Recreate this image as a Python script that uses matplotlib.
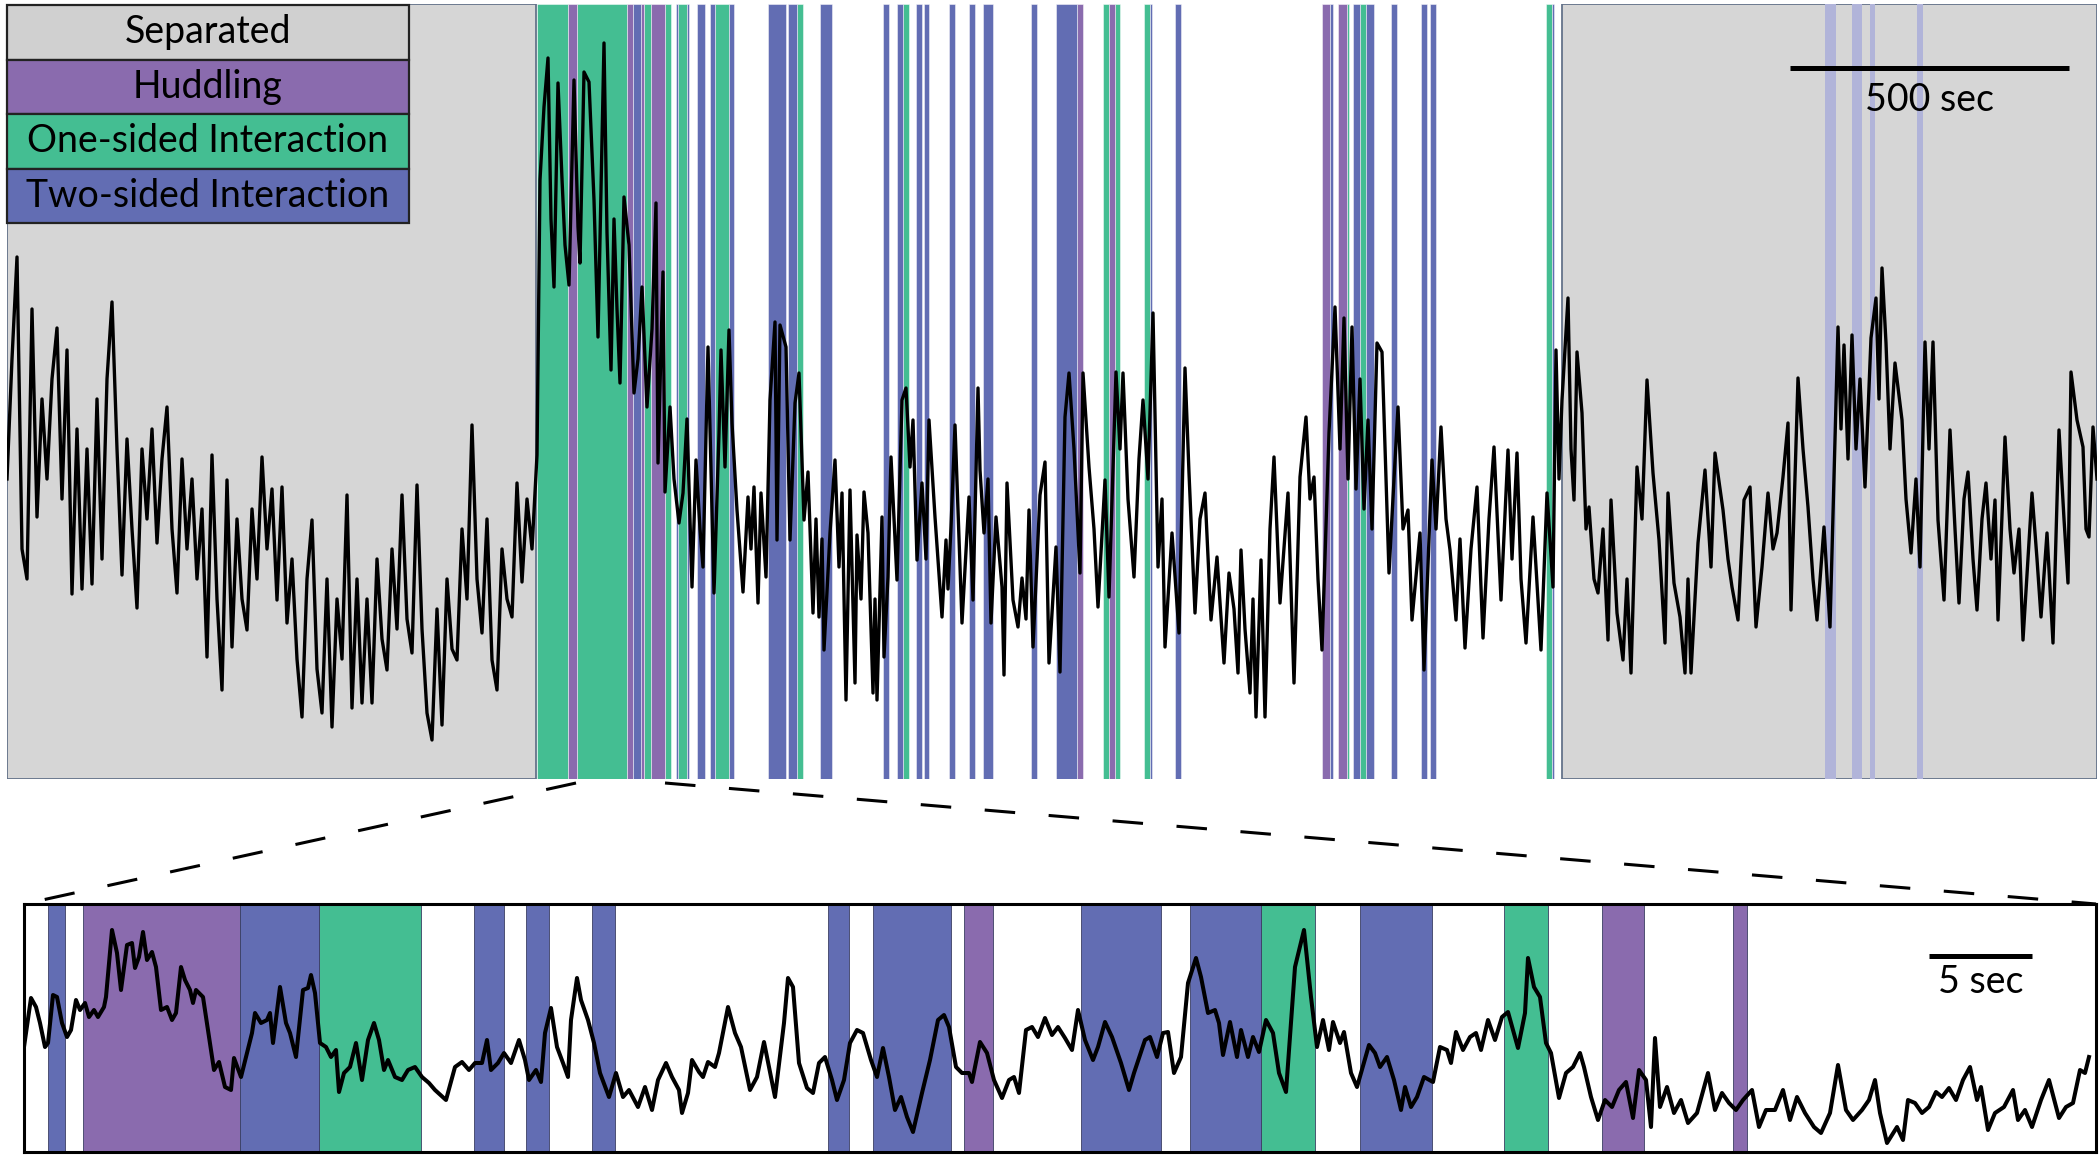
import matplotlib.pyplot as plt
from matplotlib.colors import to_rgba
from matplotlib.lines import Line2D
from matplotlib.patches import Rectangle

plt.rcParams['font.family'] = ['Lato', 'DejaVu Sans']

# --------------------------------------------------
# Colours
# --------------------------------------------------
SEPARATED = '#cacaca'
SEPARATED_KEY = '#d0d0d0'
HUDDLING = '#8a6bae'
ONE_SIDED = '#44be92'
TWO_SIDED = '#626db3'
TWO_SIDED_FADED = '#b1b4d9'   # two-sided bouts seen through the Separated shading

# --------------------------------------------------
# Data: full session (downsampled trace, 1 frame = 500/279 s)
# --------------------------------------------------
TOP_FRAME_S = 500 / 279
TOP_N_FRAMES = 2090

top_frames = [
    0, 5, 10, 15, 20, 25, 30, 35, 40, 45,
    50, 55, 60, 65, 70, 75, 80, 85, 90, 95,
    100, 105, 110, 115, 120, 125, 130, 135, 140, 145,
    150, 155, 160, 165, 170, 175, 180, 185, 190, 195,
    200, 205, 210, 215, 220, 225, 230, 235, 240, 245,
    250, 255, 260, 265, 270, 275, 280, 285, 290, 295,
    300, 305, 310, 315, 320, 325, 330, 335, 340, 345,
    350, 355, 360, 365, 370, 375, 380, 385, 390, 395,
    400, 405, 410, 415, 420, 425, 430, 435, 440, 445,
    450, 455, 460, 465, 470, 475, 480, 485, 490, 495,
    500, 505, 510, 515, 520, 525, 530,
    533, 537, 541, 544, 547, 551, 555, 558, 562, 567,
    571, 573, 577, 582, 587, 591, 597, 600, 604, 607,
    610, 613, 617, 622, 627, 631, 635, 640, 645, 649,
    651, 656, 658, 663, 667, 672, 676, 680, 685, 689,
    693, 696, 701, 707, 712, 714, 718, 722, 725, 730,
    736, 741, 744, 747, 751, 754, 759, 763, 768, 770,
    773, 779, 783, 788, 792, 797, 801, 806, 809, 812,
    815, 817, 823, 828, 832, 835, 839, 843, 848, 850,
    854, 857, 861, 866, 868, 870, 875, 877, 881, 884,
    890, 895, 899, 903, 906, 910, 915, 919, 922, 928,
    935, 939, 941, 944, 948, 955, 962, 966, 971, 973,
    977, 981, 984, 989, 995, 997, 1000, 1006, 1011, 1015,
    1019, 1022, 1026, 1033, 1038, 1042, 1049, 1053, 1058, 1062,
    1067, 1073, 1076, 1082, 1087, 1091, 1098, 1102, 1109, 1113,
    1116, 1121, 1127, 1132, 1136, 1141, 1146, 1151, 1155, 1158,
    1165, 1172, 1178, 1182, 1188, 1193, 1198, 1204, 1210, 1217,
    1222, 1227, 1231, 1234, 1238, 1243, 1246, 1249, 1254, 1258,
    1263, 1267, 1273, 1281, 1287, 1293, 1299, 1303, 1307, 1311,
    1315, 1322, 1328, 1333, 1337, 1341, 1345, 1349, 1353, 1357,
    1361, 1365, 1370, 1375, 1382, 1387, 1391, 1396, 1401, 1405,
    1413, 1417, 1425, 1429, 1434, 1439, 1443, 1449, 1453, 1458,
    1464, 1470, 1476, 1482, 1487, 1494, 1501, 1505, 1510, 1514,
    1519, 1526, 1534, 1540, 1546, 1549, 1552, 1555, 1561, 1564,
    1567, 1570, 1575, 1579, 1582, 1587, 1591, 1596, 1601, 1604,
    1610, 1616, 1620, 1624, 1630, 1635, 1640, 1646, 1652, 1658,
    1661, 1667, 1673, 1678, 1681, 1684, 1691, 1698, 1704, 1708,
    1716, 1721, 1725, 1731, 1737, 1743, 1749, 1755, 1761, 1766,
    1770, 1776, 1781, 1784, 1791, 1796, 1801, 1806, 1810, 1817,
    1823, 1831, 1834, 1837, 1841, 1845, 1849, 1853, 1858, 1864,
    1869, 1872, 1875, 1879, 1883, 1888, 1895, 1899, 1904, 1909,
    1913, 1918, 1922, 1926, 1931, 1937, 1943, 1948, 1952, 1957,
    1961, 1966, 1970, 1975, 1979, 1984, 1988, 1991, 1998, 2003,
    2007, 2012, 2016, 2021, 2025, 2030, 2034, 2040, 2046, 2052,
    2057, 2061, 2064, 2070, 2076, 2079, 2082, 2086, 2090,
]

top_signal = [
    300, 420, 522, 230, 200, 470, 262, 380, 300, 400,
    451, 280, 429, 185, 350, 190, 330, 195, 380, 220,
    400, 477, 330, 204, 340, 250, 171, 330, 260, 350,
    236, 320, 372, 250, 186, 320, 230, 300, 200, 270,
    122, 324, 180, 89, 299, 132, 260, 180, 149, 270,
    200, 322, 230, 290, 179, 292, 156, 220, 120, 62,
    200, 259, 110, 66, 200, 52, 180, 120, 284, 71,
    200, 76, 180, 76, 220, 140, 109, 230, 150, 284,
    160, 126, 294, 150, 66, 39, 170, 54, 200, 130,
    119, 250, 180, 354, 200, 146, 260, 119, 89, 230,
    180, 162, 296, 197, 280, 230, 324,
    599, 672, 721, 560, 492, 696, 600, 534, 494, 699,
    552, 516, 707, 697, 579, 442, 736, 546, 409, 560,
    470, 396, 582, 534, 386, 420, 492, 372, 450, 576,
    316, 507, 287, 372, 300, 256, 286, 360, 192, 319,
    250, 212, 432, 186, 346, 429, 312, 449, 356, 269,
    187, 282, 230, 292, 176, 286, 202, 379, 457, 239,
    454, 432, 239, 376, 406, 259, 307, 166, 260, 162,
    240, 129, 246, 319, 212, 286, 79, 289, 96, 244,
    180, 287, 246, 86, 180, 79, 262, 122, 202, 322,
    199, 379, 391, 312, 359, 219, 296, 220, 359, 262,
    162, 239, 190, 252, 354, 156, 282, 179, 391, 309,
    246, 300, 156, 262, 192, 104, 296, 179, 152, 201,
    160, 269, 132, 284, 317, 116, 232, 107, 362, 406,
    330, 206, 406, 312, 250, 172, 299, 182, 407, 330,
    406, 280, 202, 320, 379, 300, 466, 212, 280, 132,
    246, 146, 411, 306, 166, 260, 286, 159, 222, 116,
    206, 170, 106, 229, 150, 86, 180, 62, 219, 62,
    250, 322, 176, 286, 96, 302, 362, 280, 302, 200,
    129, 346, 472, 330, 461, 300, 452, 290, 400, 270,
    359, 250, 436, 427, 206, 300, 372, 250, 269, 159,
    246, 109, 319, 250, 352, 260, 229, 159, 240, 131,
    230, 292, 141, 260, 332, 179, 329, 220, 326, 200,
    136, 262, 129, 286, 192, 429, 300, 379, 481, 330,
    279, 427, 366, 250, 272, 200, 186, 250, 139, 279,
    166, 119, 200, 106, 312, 260, 399, 306, 239, 136,
    286, 196, 162, 106, 200, 106, 236, 309, 212, 326,
    269, 220, 192, 159, 279, 292, 152, 212, 286, 230,
    246, 302, 356, 169, 401, 330, 272, 200, 159, 252,
    152, 452, 350, 434, 320, 444, 330, 400, 292, 441,
    481, 380, 511, 436, 330, 416, 359, 280, 226, 300,
    212, 437, 330, 437, 259, 179, 349, 250, 176, 280,
    307, 220, 169, 260, 296, 220, 279, 159, 342, 250,
    206, 250, 139, 220, 286, 220, 162, 246, 136, 349,
    260, 196, 407, 359, 332, 250, 242, 352, 300,
]
TOP_SIGNAL_MAX = 775

# behaviour bouts (start frame, end frame)
top_separated = [(0, 529), (1555, 2090)]
top_huddling = [(561, 570), (620, 626), (634, 637), (644, 658), (1070, 1076),
                (1102, 1108), (1315, 1323), (1331, 1340)]
top_one_sided = [(530, 561), (570, 620), (637, 644), (658, 664), (671, 680),
                 (708, 722), (790, 796), (896, 902), (1096, 1102), (1108, 1113),
                 (1137, 1143), (1340, 1342), (1353, 1359), (1539, 1545)]
top_two_sided = [(626, 634), (669, 671), (680, 682), (690, 698), (703, 708),
                 (722, 727), (761, 779), (781, 790), (813, 825), (876, 882),
                 (890, 896), (909, 915), (917, 922), (942, 948), (962, 968),
                 (976, 986), (1024, 1030), (1049, 1070), (1143, 1145), (1168, 1174),
                 (1323, 1326), (1346, 1353), (1359, 1367), (1384, 1390), (1414, 1420),
                 (1423, 1429), (1545, 1547)]
# two-sided bouts that fall inside the second Separated period
top_two_sided_separated = [(1818, 1829), (1845, 1855), (1863, 1868), (1910, 1916)]

# window shown enlarged below
zoom_window = (569, 658)

# --------------------------------------------------
# Data: enlarged window (1 frame = 5/103 s)
# --------------------------------------------------
BOT_FRAME_S = 5 / 103
BOT_N_FRAMES = 2072

bot_frames = [
    0, 7, 12, 16, 21, 24, 29, 33, 38, 43,
    47, 52, 56, 61, 65, 70, 74, 80, 82, 88,
    93, 97, 103, 108, 111, 115, 119, 123, 128, 132,
    137, 143, 148, 152, 157, 161, 166, 169, 172, 179,
    190, 195, 201, 207, 210, 217, 222, 228, 231, 237,
    243, 246, 249, 256, 262, 266, 272, 279, 284, 287,
    291, 296, 302, 307, 312, 315, 320, 326, 332, 338,
    344, 350, 355, 360, 364, 371, 378, 384, 391, 398,
    405, 411, 422, 431, 438, 445, 451, 458, 463, 467,
    474, 480, 487, 495, 501, 505, 512, 517, 521, 527,
    533, 539, 544, 547, 553, 557, 564, 570, 576, 585,
    592, 599, 605, 614, 621, 628, 634, 642, 648, 655,
    658, 664, 668, 675, 679, 684, 691, 695, 704, 711,
    717, 726, 733, 740, 751, 760, 764, 769, 775, 783,
    789, 795, 801, 808, 813, 820, 826, 833, 839, 847,
    853, 859, 865, 871, 877, 883, 889, 898, 906, 914,
    920, 925, 932, 938, 945, 948, 956, 963, 970, 978,
    985, 990, 995, 1002, 1008, 1014, 1021, 1028, 1034, 1041,
    1048, 1054, 1061, 1069, 1074, 1081, 1088, 1097, 1105, 1110,
    1121, 1126, 1133, 1139, 1144, 1150, 1157, 1164, 1172, 1177,
    1184, 1191, 1195, 1199, 1206, 1213, 1217, 1224, 1229, 1235,
    1242, 1249, 1255, 1262, 1271, 1280, 1287, 1293, 1299, 1305,
    1309, 1316, 1320, 1327, 1333, 1345, 1351, 1356, 1363, 1370,
    1377, 1381, 1387, 1393, 1400, 1409, 1416, 1423, 1427, 1432,
    1439, 1446, 1452, 1457, 1464, 1471, 1478, 1484, 1494, 1501,
    1504, 1510, 1516, 1522, 1527, 1535, 1542, 1549, 1556, 1560,
    1567, 1574, 1581, 1588, 1595, 1602, 1609, 1615, 1622, 1627,
    1631, 1636, 1643, 1650, 1657, 1664, 1673, 1684, 1691, 1698,
    1705, 1712, 1719, 1728, 1735, 1742, 1751, 1759, 1766, 1773,
    1781, 1790, 1797, 1806, 1814, 1822, 1829, 1838, 1845, 1851,
    1856, 1863, 1873, 1879, 1884, 1891, 1898, 1905, 1912, 1918,
    1925, 1932, 1939, 1946, 1953, 1957, 1964, 1971, 1980, 1989,
    1994, 2001, 2008, 2017, 2025, 2035, 2042, 2049, 2056, 2061,
    2065,
]

bot_signal = [
    105, 154, 145, 129, 105, 109, 157, 155, 129, 115,
    122, 152, 142, 149, 135, 142, 135, 145, 155, 222,
    199, 162, 207, 209, 184, 195, 220, 192, 200, 185,
    142, 145, 132, 139, 185, 172, 162, 149, 162, 155,
    82, 90, 65, 62, 94, 75, 95, 119, 139, 129,
    132, 139, 109, 165, 129, 119, 95, 162, 164, 177,
    159, 109, 105, 95, 102, 60, 79, 85, 109, 72,
    112, 129, 112, 82, 92, 75, 72, 82, 85, 75,
    69, 62, 52, 85, 90, 82, 89, 89, 112, 82,
    89, 99, 89, 112, 92, 72, 82, 70, 119, 144,
    105, 89, 75, 132, 174, 152, 132, 109, 79, 55,
    79, 55, 62, 45, 65, 42, 72, 89, 75, 62,
    39, 59, 92, 80, 75, 90, 85, 99, 145, 119,
    105, 62, 75, 110, 55, 129, 174, 165, 89, 64,
    59, 89, 95, 72, 52, 72, 109, 122, 119, 92,
    75, 104, 75, 42, 55, 35, 20, 59, 92, 132,
    137, 125, 85, 79, 79, 70, 110, 99, 72, 54,
    72, 75, 59, 122, 125, 115, 134, 117, 125, 114,
    102, 142, 112, 92, 105, 130, 115, 89, 62, 79,
    112, 115, 95, 119, 120, 79, 95, 169, 194, 175,
    139, 142, 129, 97, 130, 95, 122, 95, 115, 100,
    132, 119, 79, 60, 185, 222, 155, 105, 132, 102,
    130, 109, 120, 79, 65, 107, 99, 85, 95, 72,
    42, 65, 45, 55, 75, 70, 105, 102, 89, 120,
    102, 115, 119, 102, 132, 112, 135, 140, 104, 139,
    194, 165, 155, 109, 99, 54, 79, 85, 99, 85,
    55, 32, 52, 45, 62, 70, 34, 82, 72, 25,
    114, 45, 65, 39, 52, 29, 39, 79, 42, 59,
    49, 42, 52, 62, 25, 42, 42, 62, 32, 55,
    39, 25, 19, 39, 87, 42, 32, 42, 52, 72,
    39, 9, 25, 12, 52, 49, 39, 45, 60, 55,
    64, 52, 72, 85, 52, 65, 22, 39, 45, 62,
    32, 42, 25, 52, 72, 34, 45, 49, 82, 79,
    95,
]
BOT_SIGNAL_MAX = 248

bot_huddling = [(59, 216), (940, 969), (1578, 1620), (1709, 1723)]
bot_one_sided = [(295, 397), (1237, 1291), (1480, 1524)]
bot_two_sided = [(24, 41), (216, 295), (450, 480), (502, 525), (568, 591),
                 (804, 825), (849, 927), (1057, 1137), (1166, 1237), (1336, 1408)]

legend_labels = ['Separated', 'Huddling', 'One-sided Interaction', 'Two-sided Interaction']
legend_colors = [SEPARATED_KEY, HUDDLING, ONE_SIDED, TWO_SIDED]


def draw_bouts(a, bouts, color, edge, lw=0.6, z=1):
    for s, e in bouts:
        a.axvspan(s, e, facecolor=color, edgecolor=edge, lw=lw, zorder=z)


# --------------------------------------------------
# Figure
# --------------------------------------------------
fig = plt.figure(figsize=(21, 11.55), dpi=100)

# top: whole session
ax = fig.add_axes([7 / 2100, 376 / 1155, 2090 / 2100, 775 / 1155])
ax.set_xlim(0, TOP_N_FRAMES)
ax.set_ylim(0, TOP_SIGNAL_MAX)
ax.axis('off')

top_edge = (1, 1, 1, 0.55)
draw_bouts(ax, top_one_sided, ONE_SIDED, top_edge)
draw_bouts(ax, top_huddling, HUDDLING, top_edge)
draw_bouts(ax, top_two_sided, TWO_SIDED, top_edge)

for s, e in top_separated:
    ax.add_patch(Rectangle((s, 0), e - s, TOP_SIGNAL_MAX,
                           facecolor=to_rgba(SEPARATED, 0.77),
                           edgecolor='#64738a', lw=1.3, zorder=2))
draw_bouts(ax, top_two_sided_separated, TWO_SIDED_FADED, 'none', lw=0, z=2.5)

ax.plot(top_frames, top_signal, color='k', lw=2.4, zorder=3)

# legend key as stacked boxes
row_h = 54.5 / 775
key_w = 402 / 2090
for k, (lab, col) in enumerate(zip(legend_labels, legend_colors)):
    y0 = 1 - 1 / 775 - (k + 1) * row_h
    ax.add_patch(Rectangle((0, y0), key_w, row_h, transform=ax.transAxes,
                           facecolor=col, edgecolor='#222222', lw=1.6,
                           zorder=5, clip_on=False))
    ax.text(key_w / 2, y0 + row_h / 2, lab, transform=ax.transAxes,
            ha='center', va='center', fontsize=27, zorder=6)

# 500 s scale bar
bar_len = 500 / TOP_FRAME_S
ax.plot([1783, 1783 + bar_len], [711, 711], color='k', lw=3.6,
        solid_capstyle='butt', zorder=4)
ax.text(1783 + bar_len / 2, 679, '500 sec', ha='center', va='center',
        fontsize=27, zorder=4)

# bottom: enlarged window
ax2 = fig.add_axes([24 / 2100, 3 / 1155, 2072 / 2100, 248 / 1155])
ax2.set_xlim(0, BOT_N_FRAMES)
ax2.set_ylim(0, BOT_SIGNAL_MAX)
ax2.set_xticks([])
ax2.set_yticks([])
for sp in ax2.spines.values():
    sp.set_linewidth(2.2)
    sp.set_color('k')
    sp.set_zorder(5)

bot_edge = '#3b3f63'
draw_bouts(ax2, bot_huddling, HUDDLING, bot_edge)
draw_bouts(ax2, bot_one_sided, ONE_SIDED, bot_edge)
draw_bouts(ax2, bot_two_sided, TWO_SIDED, bot_edge)

ax2.plot(bot_frames, bot_signal, color='k', lw=2.9, zorder=3)

bar_len2 = 5 / BOT_FRAME_S
ax2.plot([1905, 1905 + bar_len2], [196, 196], color='k', lw=3.6,
         solid_capstyle='butt', zorder=4)
ax2.text(1905 + bar_len2 / 2, 170, '5 sec', ha='center', va='center',
         fontsize=27, zorder=4)

# dashed lines linking the zoom window to the lower panel
to_fig = fig.transFigure.inverted()
for xa, xb in [(zoom_window[0], 0), (zoom_window[1], 1)]:
    pa = to_fig.transform(ax.transData.transform((xa, -4)))
    pb = to_fig.transform(ax2.transAxes.transform((xb, 1)))
    fig.add_artist(Line2D([pa[0], pb[0]], [pa[1], pb[1]], transform=fig.transFigure,
                          color='k', lw=2.2, linestyle=(0, (10, 11))))

fig.savefig('out.png', dpi=100)
